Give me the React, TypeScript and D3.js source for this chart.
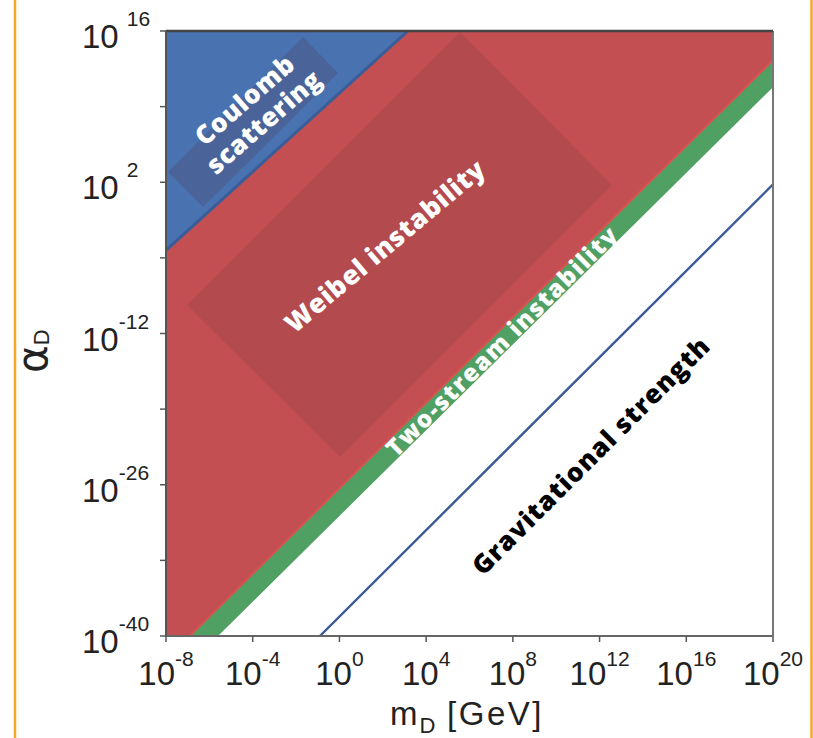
import React from 'react';
import * as d3 from 'd3';

// Axis domains (m_D in GeV, alpha_D)
const xDomain: [number, number] = [1e-8, 1e20];
const yDomain: [number, number] = [1e-40, 1e16];
const xTickExponents = [-8, -4, 0, 4, 8, 12, 16, 20];
const yTickExponents = [16, 9, 2, -5, -12, -19, -26, -33, -40];
const yLabelExponents = [16, 2, -12, -26, -40];

// Boundaries, as [log10 m_D, log10 alpha_D]
const coulombEdge = [[-8, -4.3], [3.16, 16]];
const twoStreamUpper = [[-6.9, -40], [20, 13.3]];
const twoStreamLower = [[-5.6, -40], [20, 10.8]];
const gravitational = [[-0.9, -40], [20, 1.8]];
const weibelBox = [[5.56, 15.9], [12.57, 1.74], [0.03, -23.44], [-7.03, -9.37]];
const coulombBox = [[-1.68, 15.44], [-0.07, 12.11], [-6.29, -0.3], [-7.91, 2.94]];

// Region labels: lines, anchor [log10 m, log10 alpha], angle
const labelLines = [['Coulomb', 'scattering'], ['Weibel instability'], ['Two-stream instability'], ['Gravitational strength']];
const labelAnchors = [[-3.94, 8.6], [2.1, -3.9], [7.5, -12.7], [11.6, -23.3]];
const labelAngles = [-41, -40, -44.7, -45];
const labelSizes = [26, 26.5, 24, 26];
const labelSpacing = [0.5, 0.6, 1.6, 1.0];
const labelColors = ['#ffffff', '#ffffff', '#ffffff', '#000000'];

const W = 813, H = 738;
const L = 166, R = 773, T = 31, B = 636;

export default function App() {
  const x = d3.scaleLog().domain(xDomain).range([L, R]);
  const y = d3.scaleLog().domain(yDomain).range([B, T]);
  const px = (p: number[]) => [x(Math.pow(10, p[0])), y(Math.pow(10, p[1]))];
  const poly = (pts: number[][]) => 'M' + pts.map(p => px(p).join(',')).join('L') + 'Z';
  const line = d3.line();

  const [c0, c1] = coulombEdge;
  const [u0, u1] = twoStreamUpper;
  const [l0, l1] = twoStreamLower;
  const xMinL = Math.log10(xDomain[0]), xMaxL = Math.log10(xDomain[1]);
  const yMinL = Math.log10(yDomain[0]), yMaxL = Math.log10(yDomain[1]);

  const bluePts = [[xMinL, yMaxL], c0, c1];
  const redPts = [c0, [xMinL, yMinL], u0, u1, [xMaxL, yMaxL], c1];
  const greenPts = [u0, l0, l1, u1];

  const tickFont = 'Liberation Sans, Arial, Helvetica, sans-serif';
  const annFont = '"Open Sans", Lato, sans-serif';

  return (
    <svg width={W} height={H} style={{ position: 'absolute', left: 0, top: 0, background: '#fff' }}>
      <defs>
        <clipPath id="plot"><rect x={L} y={T} width={R - L} height={B - T} /></clipPath>
      </defs>
      {/* orange frame lines */}
      <line x1={15} x2={15} y1={0} y2={H} stroke="#f7a823" strokeWidth={2.5} />
      <line x1={811.5} x2={811.5} y1={0} y2={H} stroke="#f7a823" strokeWidth={2.5} />

      <g clipPath="url(#plot)">
        <path d={poly(bluePts)} fill="#4872b0" />
        <path d={poly(redPts)} fill="#c44f52" />
        <path d={poly(greenPts)} fill="#50a064" />
        <path d={poly(coulombBox)} fill="#4a6499" />
        <path d={poly(weibelBox)} fill="#b34a4e" />
        <path d={line(coulombEdge.map(px) as any) || ''} stroke="#3a5d98" strokeWidth={3} fill="none" />
        <path d={line(twoStreamUpper.map(px) as any) || ''} stroke="#d9534f" strokeWidth={2} fill="none" />
        <path d={line(gravitational.map(px) as any) || ''} stroke="#3b5a98" strokeWidth={2.4} fill="none" />
      </g>

      {labelLines.map((lines, i) => {
        const [cx, cy] = px(labelAnchors[i]);
        const fs = labelSizes[i];
        const lh = fs * 1.12;
        return (
          <g key={i} transform={`translate(${cx},${cy}) rotate(${labelAngles[i]})`}>
            {lines.map((t, j) => (
              <text key={j} x={0} y={(j - (lines.length - 1) / 2) * lh + fs * 0.36}
                textAnchor="middle" fontFamily={annFont} fontWeight={800} fontSize={fs}
                letterSpacing={labelSpacing[i]} fill={labelColors[i]}>{t}</text>
            ))}
          </g>
        );
      })}

      {/* frame */}
      <line x1={L} x2={R} y1={B} y2={B} stroke="#666" strokeWidth={2} />
      <line x1={R} x2={R} y1={T} y2={B} stroke="#777" strokeWidth={2} />
      <line x1={L} x2={R} y1={T} y2={T} stroke="#444" strokeWidth={2.5} />
      <line x1={L} x2={L} y1={T} y2={B} stroke="#555" strokeWidth={2} />

      {/* x ticks */}
      {xTickExponents.map(e => (
        <g key={e}>
          <line x1={x(Math.pow(10, e))} x2={x(Math.pow(10, e))} y1={B} y2={B + 6} stroke="#555" strokeWidth={1.5} />
          <text x={x(Math.pow(10, e))} y={685} textAnchor="middle" fontFamily={tickFont} fill="#222">
            <tspan fontSize={33}>10</tspan>
            <tspan fontSize={21} dy={-19}>{e}</tspan>
          </text>
        </g>
      ))}

      {/* y ticks */}
      {yTickExponents.map(e => (
        <line key={e} x1={L - 6} x2={L} y1={y(Math.pow(10, e))} y2={y(Math.pow(10, e))} stroke="#555" strokeWidth={1.5} />
      ))}
      {yLabelExponents.map(e => (
        <text key={e} x={82} y={y(Math.pow(10, e)) + 17} fontFamily={tickFont} fill="#222">
          <tspan fontSize={33}>10</tspan>
          <tspan fontSize={21} dy={-22} dx={e >= 0 ? 8 : 0}>{e}</tspan>
        </text>
      ))}

      {/* axis titles */}
      <text x={467} y={725} textAnchor="middle" fontFamily={tickFont} fill="#222">
        <tspan fontSize={33}>m</tspan>
        <tspan fontSize={22} dy={8} dx={2}>D</tspan>
        <tspan fontSize={33} dy={-8} letterSpacing={2.5}> [GeV]</tspan>
      </text>
      <text transform="translate(47,373) rotate(-90)" fontFamily="DejaVu Sans, sans-serif" fill="#222">
        <tspan fontSize={42}>α</tspan>
        <tspan fontSize={22} dy={2} fontFamily={tickFont}>D</tspan>
      </text>
    </svg>
  );
}
